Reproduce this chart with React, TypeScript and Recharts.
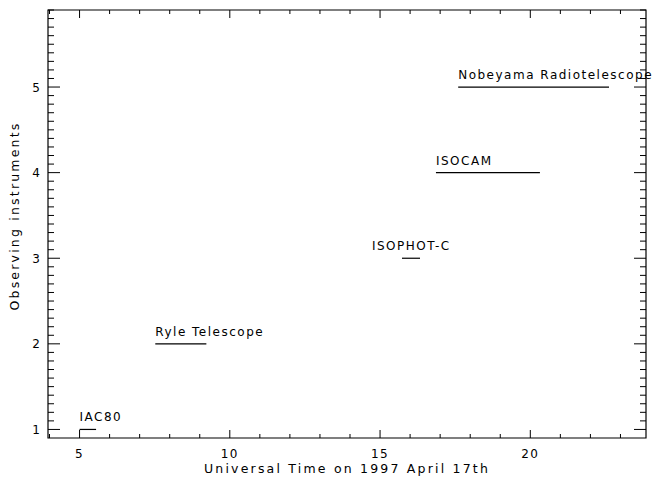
import { LineChart, Line, XAxis, YAxis, ReferenceDot, ReferenceArea } from 'recharts'

const FONT = '"DejaVu Sans", sans-serif'

// instruments, their row on the y axis and observing window (UT hours)
const instruments = ['IAC80', 'Ryle Telescope', 'ISOPHOT-C', 'ISOCAM', 'Nobeyama Radiotelescope']
const rows = [1, 2, 3, 4, 5]
const startTimes = [5.0, 7.52, 15.73, 16.86, 17.6]
const endTimes = [5.55, 9.22, 16.33, 20.32, 22.62]
const labelTimes = [5.0, 7.52, 14.73, 16.86, 17.6]

const xDomain = [3.95, 23.85]
const yDomain = [0.9, 5.9]
const xMajor = [5, 10, 15, 20]
const yMajor = [1, 2, 3, 4, 5]

const xTicks: number[] = []
for (let v = 4; v <= 23; v++) xTicks.push(v)
const yTicks: number[] = []
for (let i = 10; i <= 59; i++) yTicks.push(i / 10)

// plot box edges in px (chart margin + axis sizes)
const LEFT = 48
const RIGHT = 646
const TOP = 10
const BOTTOM = 438

const isMajor = (major: number[], v: number) => major.some((m) => Math.abs(m - v) < 1e-6)

// ticks point inward, mirrored on the opposite side like an IDL box
function XTick(props: any) {
  const { x, payload } = props
  const v = payload.value
  const big = isMajor(xMajor, v)
  const l = big ? 8 : 4
  return (
    <g>
      <line x1={x} y1={BOTTOM} x2={x} y2={BOTTOM - l} stroke="#000" />
      <line x1={x} y1={TOP} x2={x} y2={TOP + l} stroke="#000" />
      {big && (
        <text x={x} y={BOTTOM + 20} textAnchor="middle" fontSize={12} fontFamily={FONT} letterSpacing={1.5} fill="#000">
          {v}
        </text>
      )}
    </g>
  )
}

function YTick(props: any) {
  const { y, payload } = props
  const v = payload.value
  const big = isMajor(yMajor, v)
  const l = big ? 12 : 6
  return (
    <g>
      <line x1={LEFT} y1={y} x2={LEFT + l} y2={y} stroke="#000" />
      <line x1={RIGHT} y1={y} x2={RIGHT - l} y2={y} stroke="#000" />
      {big && (
        <text x={LEFT - 8} y={y + 4.5} textAnchor="end" fontSize={12} fontFamily={FONT} fill="#000">
          {v}
        </text>
      )}
    </g>
  )
}

const textStyle = { fontSize: 12, fontFamily: FONT, letterSpacing: 1.5, fill: '#000' }
const titleStyle = { fontSize: 12.5, fontFamily: FONT, letterSpacing: 2.2, fill: '#000' }

export default function App() {
  return (
    <div style={{ position: 'absolute', left: 0, top: 0, background: '#fff' }}>
      <LineChart width={652} height={482} margin={{ top: TOP, right: 652 - RIGHT, left: 0, bottom: 0 }}>
        <XAxis
          xAxisId="b"
          dataKey="t"
          type="number"
          domain={xDomain}
          allowDataOverflow
          ticks={xTicks}
          interval={0}
          height={482 - BOTTOM}
          tickSize={0}
          tickMargin={0}
          tickLine={false}
          axisLine={false}
          tick={XTick}
          label={{
            content: (p: any) => (
              <text x={(LEFT + RIGHT) / 2} y={BOTTOM + 35} textAnchor="middle" style={titleStyle}>
                Universal Time on 1997 April 17th
              </text>
            ),
          }}
        />
        <YAxis
          yAxisId="l"
          type="number"
          domain={yDomain}
          allowDataOverflow
          ticks={yTicks}
          interval={0}
          width={LEFT}
          tickSize={0}
          tickMargin={0}
          tickLine={false}
          axisLine={false}
          tick={YTick}
          label={{
            content: () => {
              const cx = 19
              const cy = 216
              return (
                <text x={cx} y={cy} textAnchor="middle" transform={`rotate(-90 ${cx} ${cy})`} style={titleStyle}>
                  Observing instruments
                </text>
              )
            },
          }}
        />
        <ReferenceArea
          xAxisId="b"
          yAxisId="l"
          x1={xDomain[0]}
          x2={xDomain[1]}
          y1={yDomain[0]}
          y2={yDomain[1]}
          fill="none"
          fillOpacity={0}
          stroke="#000"
          strokeWidth={1.2}
          ifOverflow="visible"
        />
        {instruments.map((name, i) => (
          <Line
            key={name}
            xAxisId="b"
            yAxisId="l"
            data={[
              { t: startTimes[i], y: rows[i] },
              { t: endTimes[i], y: rows[i] },
            ]}
            dataKey="y"
            stroke="#000"
            strokeWidth={1.2}
            dot={false}
            activeDot={false}
            isAnimationActive={false}
          />
        ))}
        {instruments.map((name, i) => (
          <ReferenceDot
            key={'lbl-' + name}
            xAxisId="b"
            yAxisId="l"
            x={labelTimes[i]}
            y={rows[i]}
            r={0}
            fill="none"
            stroke="none"
            ifOverflow="visible"
            label={{
              content: (p: any) => (
                <text x={p.viewBox.x} y={p.viewBox.y - 8} textAnchor="start" style={textStyle}>
                  {name}
                </text>
              ),
            }}
          />
        ))}
      </LineChart>
    </div>
  )
}
